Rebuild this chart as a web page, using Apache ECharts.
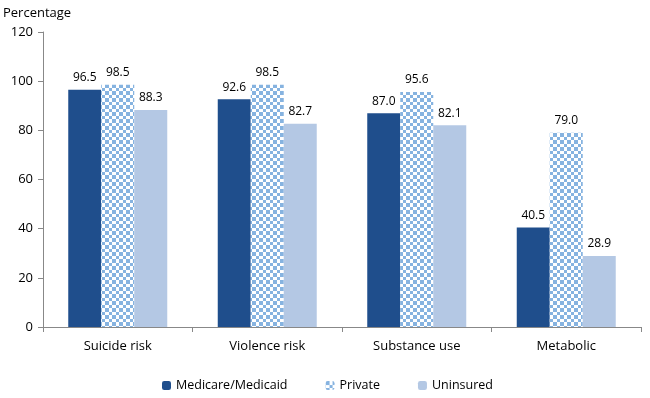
<!DOCTYPE html>
<html>
<head>
<meta charset="utf-8">
<script src="https://cdn.jsdelivr.net/npm/echarts@6/dist/echarts.min.js"></script>
<style>
  html, body { margin: 0; padding: 0; background: #fff; }
  #main { width: 650px; height: 398px; }
</style>
</head>
<body>
<div id="main"></div>
<script>
var categories = ['Suicide risk', 'Violence risk', 'Substance use', 'Metabolic'];
var medicare = [96.5, 92.6, 87.0, 40.5];
var privateIns = [98.5, 98.5, 95.6, 79.0];
var uninsured = [88.3, 82.7, 82.1, 28.9];

// checkered fill for "Private"
var pat = document.createElement('canvas');
pat.width = 7;
pat.height = 7;
var ctx = pat.getContext('2d');
ctx.fillStyle = '#ffffff';
ctx.fillRect(0, 0, 7, 7);
ctx.fillStyle = '#86b3e0';
ctx.fillRect(0, 0, 4, 4);
ctx.fillRect(4, 4, 3, 3);

var chart = echarts.init(document.getElementById('main'));
var font = '"Open Sans", sans-serif';

var labelOpt = {
  show: true,
  position: 'top',
  distance: 6,
  color: '#000',
  fontSize: 12,
  fontFamily: font,
  formatter: function (p) { return p.value.toFixed(1); }
};

var option = {
  animation: false,
  textStyle: { fontFamily: font },
  grid: { left: 41, right: 9, top: 32, bottom: 71 },
  legend: {
    bottom: 1,
    left: 157,
    itemWidth: 9,
    itemHeight: 9,
    itemGap: 38,
    textStyle: { fontSize: 12.5, color: '#000', fontFamily: font },
    data: ['Medicare/Medicaid', 'Private', 'Uninsured']
  },
  xAxis: {
    type: 'category',
    data: categories,
    axisLine: { lineStyle: { color: '#888' } },
    axisTick: { show: true, alignWithLabel: false, length: 5, lineStyle: { color: '#888' } },
    axisLabel: { color: '#000', fontSize: 13, margin: 13, fontFamily: font }
  },
  yAxis: {
    type: 'value',
    min: 0,
    max: 120,
    interval: 20,
    name: 'Percentage',
    nameLocation: 'end',
    nameGap: 12,
    nameTextStyle: { color: '#000', fontSize: 13, align: 'left', padding: [0, 0, 0, -40] },
    axisLine: { show: true, lineStyle: { color: '#888' } },
    axisTick: { show: true, length: 5, lineStyle: { color: '#888' } },
    splitLine: { show: false },
    axisLabel: { color: '#000', fontSize: 13, margin: 10, fontFamily: font }
  },
  series: [
    {
      name: 'Medicare/Medicaid',
      type: 'bar',
      data: medicare,
      barWidth: 33,
      barGap: '0%',
      itemStyle: { color: '#1f4e8c' },
      label: labelOpt
    },
    {
      name: 'Private',
      type: 'bar',
      data: privateIns,
      barWidth: 33,
      barGap: '0%',
      itemStyle: { color: { image: pat, repeat: 'repeat' } },
      label: labelOpt
    },
    {
      name: 'Uninsured',
      type: 'bar',
      data: uninsured,
      barWidth: 33,
      barGap: '0%',
      itemStyle: { color: '#b4c8e4' },
      label: labelOpt
    }
  ]
};
chart.setOption(option);
</script>
</body>
</html>
